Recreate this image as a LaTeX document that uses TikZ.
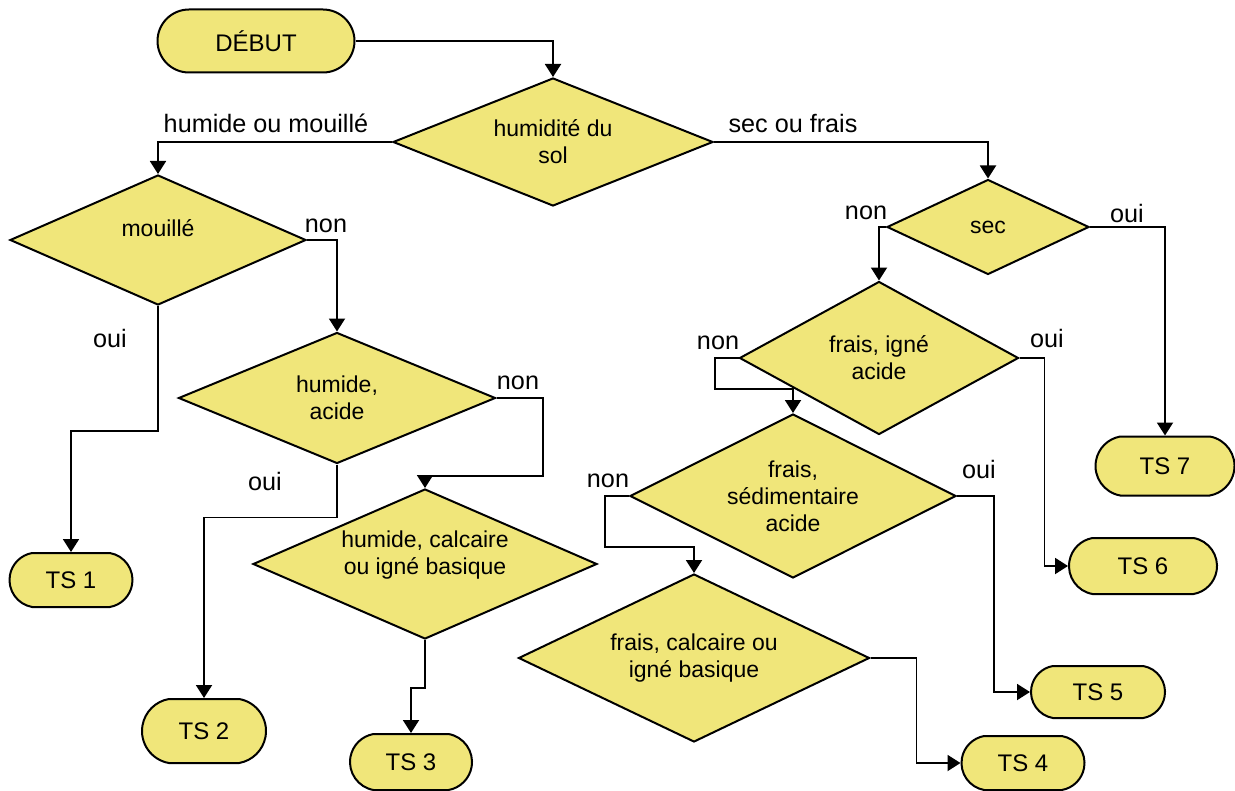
\documentclass[tikz,border=0pt]{standalone}
\usepackage{fontspec}
\setmainfont{Liberation Sans}
\usepackage{xcolor}
\usepackage{tikz}
\usetikzlibrary{shapes.geometric,shapes.misc,arrows.meta}
\definecolor{boxfill}{RGB}{240,230,122}

\begin{document}
\begin{tikzpicture}[x=0.5pt,y=-0.5pt,
  font=\fontsize{12.6}{14}\selectfont,
  term/.style={rounded rectangle,rounded rectangle arc length=160,draw,line width=1pt,fill=boxfill,inner sep=0pt,font=\fontsize{12}{13.5}\selectfont},
  dec/.style={diamond,aspect=2,draw,line width=1pt,fill=boxfill,inner sep=0pt,align=center,font=\fontsize{11.5}{13.5}\selectfont},
  flow/.style={line width=0.95pt,-{Triangle[length=6.5pt,width=8pt]}}]
  \useasboundingbox (0,0) rectangle (1235,791);

  % start and first question
  \node[term,rounded rectangle arc length=180,minimum width=98.5pt,minimum height=31.5pt] (deb) at (256,41) {DÉBUT};
  \node[dec,minimum width=160pt,minimum height=64pt] (sol) at (553,142) {humidité du\\sol};

  % left side: wet soils
  \node[dec,minimum width=148pt,minimum height=65pt,label={[font=\fontsize{11.5}{13.5}\selectfont,yshift=6pt]center:mouillé}] (mou) at (158,240) {};
  \node[dec,minimum width=158.5pt,minimum height=65.5pt] (hac) at (337,398) {humide,\\acide};
  \node[dec,minimum width=172pt,minimum height=75pt,label={[font=\fontsize{11.5}{13.5}\selectfont,align=center,yshift=4.5pt]center:{humide, calcaire\\ou igné basique}}] (hca) at (425,564) {};

  % right side: dry or fresh soils
  \node[dec,minimum width=101pt,minimum height=47.5pt] (sec) at (988,227) {sec};
  \node[dec,minimum width=139.5pt,minimum height=76.5pt] (fia) at (879,358) {frais, igné\\acide};
  \node[dec,minimum width=163pt,minimum height=82pt] (fsa) at (793,496) {frais,\\sédimentaire\\acide};
  \node[dec,minimum width=175.5pt,minimum height=84pt] (fca) at (694,658) {frais, calcaire ou\\igné basique};

  % end boxes
  \node[term,minimum width=61.5pt,minimum height=27pt] (ts1) at (71,580) {TS 1};
  \node[term,minimum width=62pt,minimum height=32pt] (ts2) at (204,731) {TS 2};
  \node[term,minimum width=61pt,minimum height=28pt] (ts3) at (411,762) {TS 3};
  \node[term,minimum width=61.5pt,minimum height=27pt] (ts4) at (1023,763) {TS 4};
  \node[term,minimum width=67pt,minimum height=26pt] (ts5) at (1098,692) {TS 5};
  \node[term,minimum width=74pt,minimum height=28pt] (ts6) at (1143,566) {TS 6};
  \node[term,minimum width=69.5pt,minimum height=29.5pt] (ts7) at (1165,466) {TS 7};

  % connectors
  \draw[flow] (deb.east) -| (sol.north);
  \draw[flow] (sol.west) -| (mou.north);
  \draw[flow] (sol.east) -| (sec.north);
  \draw[flow] (mou.east) -| (hac.north);
  \draw[flow] (mou.south) -- ++(0,125) -| (ts1.north);
  \draw[flow] (hac.east) -| (543,476) -| (hca.north);
  \draw[flow] (hac.south) -- ++(0,53) -| (ts2.north);
  \draw[flow] (hca.south) -- ++(0,48) -| (ts3.north);
  \draw[flow] (sec.west) -| (fia.north);
  \draw[flow] (sec.east) -| (ts7.north);
  \draw[flow] (fia.west) -| (715,389) -| (fsa.north);
  \draw[flow] (fia.east) -- ++(25,0) |- (ts6.west);
  \draw[flow] (fsa.west) -| (605,547) -| (fca.north);
  \draw[flow] (fsa.east) -- ++(37,0) |- (ts5.west);
  \draw[flow] (fca.east) -- ++(46,0) |- (ts4.west);

  % branch labels
  \node (lhum) at (266,123) {humide ou mouillé};
  \node (lsec) at (793,123) {sec ou frais};
  \node (mnon) at (326,226) {non};
  \node (moui) at (110,338) {oui};
  \node (hnon) at (518,383) {non};
  \node (houi) at (265,481) {oui};
  \node (snon) at (866,213) {non};
  \node (soui) at (1127,213) {oui};
  \node (fnon) at (718,343) {non};
  \node (foui) at (1047,338) {oui};
  \node (dnon) at (608,481) {non};
  \node (doui) at (979,469) {oui};
\end{tikzpicture}
\end{document}
